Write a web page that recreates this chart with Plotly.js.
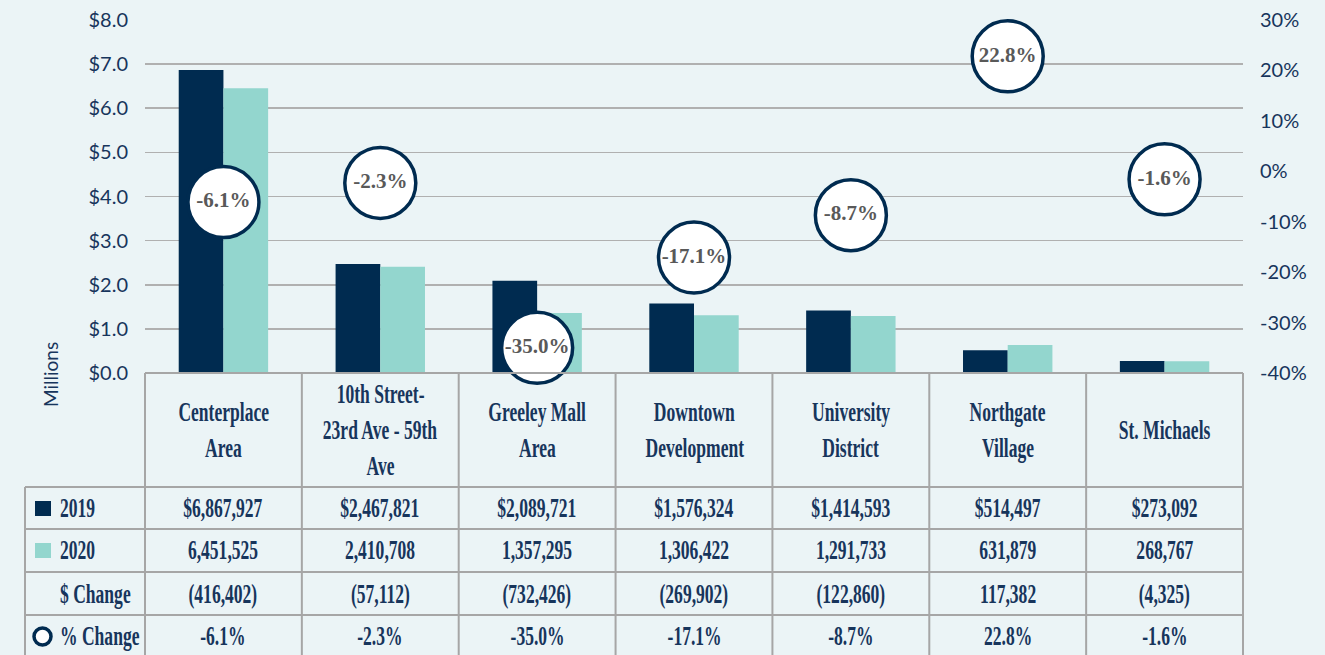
<!DOCTYPE html>
<html>
<head>
<meta charset="utf-8">
<script src="https://cdn.plot.ly/plotly-3.0.1.min.js"></script>
<style>
  html, body { margin: 0; padding: 0; background: #EBF4F6; }
  #chart { width: 1325px; height: 655px; }
</style>
</head>
<body>
<div id="chart"></div>
<script>
// ---- data ----
const categories = ["Centerplace Area", "10th Street-23rd Ave - 59th Ave", "Greeley Mall Area", "Downtown Development", "University District", "Northgate Village", "St. Michaels"];
const categoryLines = [["Centerplace", "Area"], ["10th Street-", "23rd Ave - 59th", "Ave"], ["Greeley Mall", "Area"], ["Downtown", "Development"], ["University", "District"], ["Northgate", "Village"], ["St. Michaels"]];
const values2019 = [6867927, 2467821, 2089721, 1576324, 1414593, 514497, 273092];
const values2020 = [6451525, 2410708, 1357295, 1306422, 1291733, 631879, 268767];
const dollarChange = [-416402, -57112, -732426, -269902, -122860, 117382, -4325];
const pctChange = [-6.1, -2.3, -35.0, -17.1, -8.7, 22.8, -1.6];
const rowLabels = ["2019", "2020", "$ Change", "% Change"];
const pctTicks = [-40, -30, -20, -10, 0, 10, 20, 30];

// ---- styling ----
const NAVY = "#002B50";
const TEAL = "#93D6CE";
const BG = "#EBF4F6";
const GRID = "#B0B0B0";
const TXT = "#17355C";
const SERIF = "Liberation Serif, serif";
const SANS = "Lato, sans-serif";
const CONDENSE = 0.65;

const PL = 145, PT = 20, PW = 1098, PH = 353;
const fx = px => (px - PL) / PW;
const fy = py => (PT + PH - py) / PH;

const fmt = n => Math.abs(n).toLocaleString("en-US");
const row2019 = values2019.map(v => "$" + fmt(v));
const row2020 = values2020.map(v => fmt(v));
const rowChange = dollarChange.map(v => v < 0 ? "(" + fmt(v) + ")" : fmt(v));
const rowPct = pctChange.map(v => v.toFixed(1) + "%");

const traces = [
  { type: "bar", name: "2019", x: categories, y: values2019.map(v => v / 1e6),
    marker: { color: NAVY }, hoverinfo: "skip" },
  { type: "bar", name: "2020", x: categories, y: values2020.map(v => v / 1e6),
    marker: { color: TEAL }, hoverinfo: "skip" },
  { type: "scatter", mode: "markers+text", name: "% Change", x: categories, y: pctChange,
    yaxis: "y2", cliponaxis: false,
    marker: { size: 71, color: "#FFFFFF", line: { color: NAVY, width: 3.5 } },
    text: rowPct, textposition: "middle center",
    textfont: { family: SERIF, size: 21, color: "#595959", weight: "bold" },
    hoverinfo: "skip" }
];

const annotations = [];
const TFONT = { family: SERIF, size: 27, color: TXT, weight: "bold" };
// header labels
categoryLines.forEach((lines, i) => {
  const n = lines.length;
  lines.forEach((ln, j) => {
    const py = 430 + (j - (n - 1) / 2) * 36;
    annotations.push({ xref: "x", yref: "paper", x: categories[i], y: fy(py),
      text: ln, showarrow: false, xanchor: "center", yanchor: "middle", font: TFONT });
  });
});
// data rows
const rows = [row2019, row2020, rowChange, rowPct];
const rowY = [508, 550, 594, 636];
rows.forEach((r, k) => {
  r.forEach((t, i) => {
    annotations.push({ xref: "x", yref: "paper", x: categories[i], y: fy(rowY[k]),
      text: t, showarrow: false, xanchor: "center", yanchor: "middle", font: TFONT });
  });
  annotations.push({ xref: "paper", yref: "paper", x: fx(58), y: fy(rowY[k]),
    text: rowLabels[k], showarrow: false, xanchor: "left", yanchor: "middle", font: TFONT });
});
// axis title
annotations.push({ xref: "paper", yref: "paper", x: fx(50), y: fy(375),
  text: "Millions", textangle: -90, showarrow: false, xanchor: "center", yanchor: "middle",
  font: { family: SANS, size: 19, color: TXT } });

// table grid
const shapes = [];
const line = (x0, y0, x1, y1) => shapes.push({ type: "line", xref: "paper", yref: "paper",
  x0: fx(x0), y0: fy(y0), x1: fx(x1), y1: fy(y1), line: { color: "#A6A6A6", width: 2 } });
line(145, 373, 1243, 373);
for (let i = 0; i <= categories.length; i++) {
  const px = PL + i * PW / categories.length;
  line(px, 373, px, 660);
}
line(25, 487, 25, 660);
[487, 529, 572, 615].forEach(py => line(25, py, 1243, py));
// legend keys in table
shapes.push({ type: "rect", xref: "paper", yref: "paper", x0: fx(35), x1: fx(51), y0: fy(501), y1: fy(516),
  fillcolor: NAVY, line: { width: 0 } });
shapes.push({ type: "rect", xref: "paper", yref: "paper", x0: fx(35), x1: fx(51), y0: fy(543), y1: fy(558),
  fillcolor: TEAL, line: { width: 0 } });
shapes.push({ type: "circle", xref: "paper", yref: "paper", x0: fx(34), x1: fx(51), y0: fy(628), y1: fy(645),
  fillcolor: "#FFFFFF", line: { color: NAVY, width: 3.5 } });

const layout = {
  width: 1325, height: 655,
  margin: { l: PL, r: 1325 - PL - PW, t: PT, b: 655 - PT - PH },
  paper_bgcolor: BG, plot_bgcolor: BG,
  showlegend: false,
  barmode: "group", bargap: 0.43, bargroupgap: 0,
  xaxis: { type: "category", range: [-0.5, categories.length - 0.5], showticklabels: false,
    showgrid: false, zeroline: false, showline: false, ticks: "" },
  yaxis: { range: [0, 8], dtick: 1, tickformat: ".1f", tickprefix: "$",
    showgrid: true, gridcolor: GRID, gridwidth: 1.6, zeroline: false, showline: false,
    ticklabelstandoff: 16,
    tickfont: { family: SANS, size: 20, color: TXT } },
  yaxis2: { overlaying: "y", side: "right", range: [-40, 30],
    tickmode: "array", tickvals: pctTicks, ticktext: pctTicks.map(v => v + "%"),
    showgrid: false, zeroline: false, showline: false, ticklabelstandoff: 16,
    tickfont: { family: SANS, size: 20, color: TXT } },
  annotations: annotations,
  shapes: shapes
};

Plotly.newPlot("chart", traces, layout, { staticPlot: true, displayModeBar: false }).then(gd => {
  // emulate the condensed serif face of the table text
  gd.querySelectorAll("text.annotation-text").forEach(t => {
    const ff = (t.style.fontFamily || "");
    if (ff.indexOf("Liberation Serif") === -1) return;
    const isRowLabel = rowLabels.indexOf(t.textContent) !== -1;
    t.style.transformBox = "fill-box";
    t.style.transformOrigin = isRowLabel ? "left center" : "center center";
    t.style.transform = "scaleX(" + CONDENSE + ")";
  });
});
</script>
</body>
</html>
